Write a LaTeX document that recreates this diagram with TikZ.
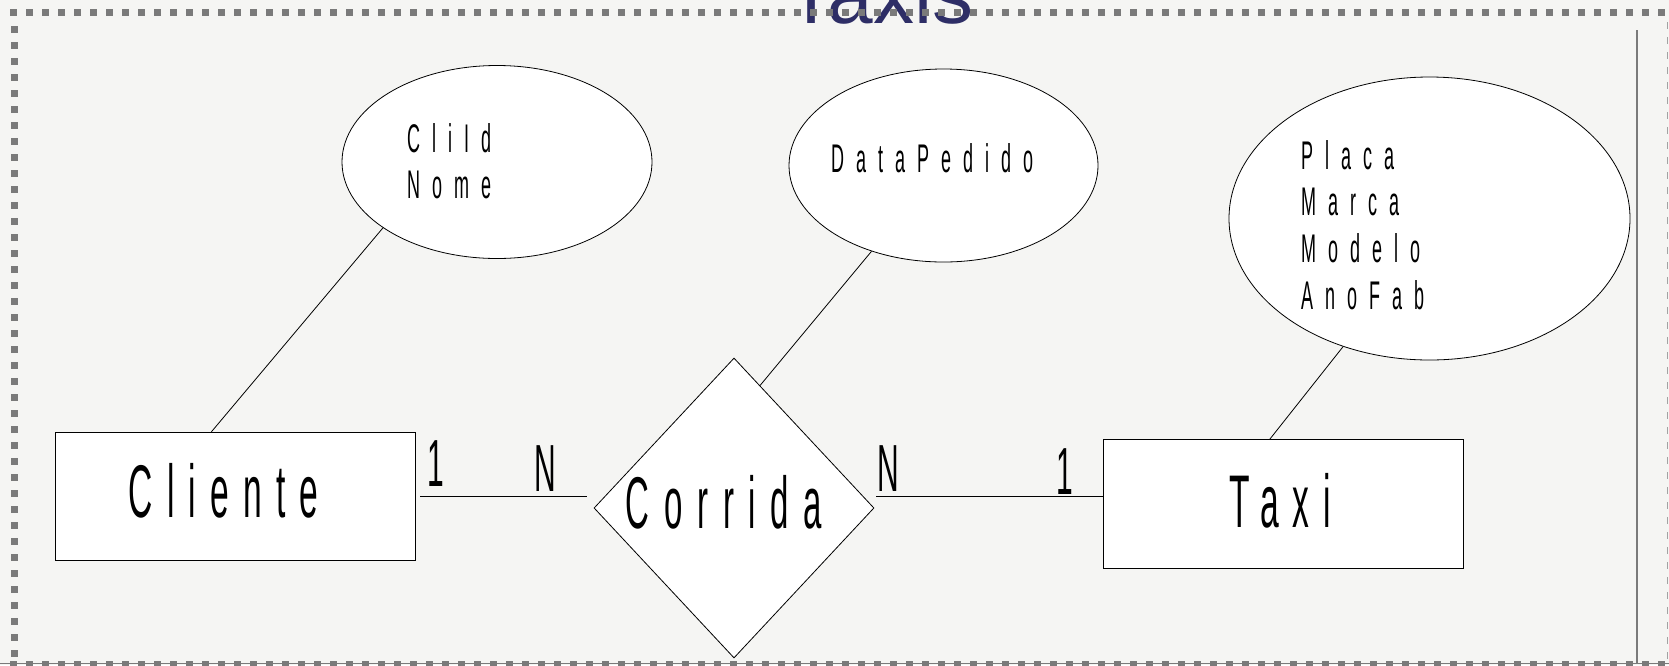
\documentclass[tikz,border=0pt]{standalone}
\usepackage{fontspec}
\setmainfont{Liberation Sans}
\newfontfamily\erfont[FakeStretch=0.45]{Liberation Sans}
\usetikzlibrary{shapes.geometric,calc}

\definecolor{fundo}{RGB}{245,245,243}
\definecolor{moldura}{RGB}{122,122,122}
\definecolor{titulo}{RGB}{46,46,102}

\tikzset{
	entidade/.style = {draw, fill=white, line width=0.6pt, minimum width=270pt, minimum height=96.5pt, inner sep=0pt,
		font=\erfont\fontsize{56}{64}\selectfont\addfontfeatures{LetterSpace=19}},
	relac/.style = {diamond, draw, fill=white, line width=0.6pt, minimum width=210pt, minimum height=225pt, inner sep=0pt,
		font=\erfont\fontsize{55}{64}\selectfont\addfontfeatures{LetterSpace=20}},
	atributo/.style = {ellipse, draw, fill=white, line width=0.6pt, inner sep=0pt},
	atrtexto/.style = {anchor=north west, inner sep=0pt, align=left,
		font=\erfont\fontsize{30}{35}\selectfont\addfontfeatures{LetterSpace=30}},
	card/.style = {anchor=base, inner sep=0pt, font=\erfont\fontsize{50}{55}\selectfont},
	link/.style = {line width=0.6pt},
}

\begin{document}
\begin{tikzpicture}[x = 0.75pt, y = -0.75pt]
	\useasboundingbox (0,0) rectangle (1669,665);
	\fill[fundo] (0,0) rectangle (1669,665);
	\node[anchor=base, inner sep=0pt, text=titulo, font=\fontsize{61.5}{70}\selectfont] (titulo) at (880,23) {Taxis};

	% entidades e relacionamento (texto um pouco acima e a esquerda do centro)
	\node[entidade, text depth=9pt] (cliente) at (235,496.5) {Cliente\hspace*{17pt}};
	\node[relac, text depth=9pt] (corrida) at (734,508) {\makebox[0pt]{Corrida\hspace*{15pt}}};
	\node[entidade, text depth=5.5pt] (taxi) at (1283.5,504) {Taxi\hspace*{5pt}};

	% atributos
	\node[atributo, minimum width=232.5pt, minimum height=144.75pt] (cliattr) at (497,162) {};
	\node[atrtexto] (clitxt) at (407,123) {CliId\\Nome};
	\node[atributo, minimum width=231.75pt, minimum height=144.75pt] (dataattr) at (943.5,165.5) {};
	\node[atrtexto] (datatxt) at (831,143) {DataPedido};
	\node[atributo, minimum width=300.75pt, minimum height=212.25pt] (taxiattr) at (1429.5,218.5) {};
	\node[atrtexto] (taxitxt) at (1301,140) {Placa\\Marca\\Modelo\\AnoFab};

	\draw[link] (cliattr.210) -- (cliente.110);
	\draw[link] (dataattr.230) -- (corrida.78);
	\draw[link] (taxiattr.236) -- (taxi.102);

	% cardinalidades
	\draw[link] ([xshift=3.75pt]cliente.east) -- ([xshift=-5pt]cliente.east -| corrida.west)
		node[card, pos=0.09, yshift=7.5pt]{1}
		node[card, pos=0.75, yshift=3.75pt]{N};
	\draw[link] ([xshift=1.5pt]corrida.east |- cliente.east) -- (taxi.west |- cliente.east)
		node[card, pos=0.053, yshift=3.75pt]{N}
		node[card, pos=0.83, yshift=1.5pt]{1};

	% moldura
	\draw[moldura, line width=0.7pt] (0,663) -- (1669,663);
	\draw[moldura!70, line width=0.75pt, dash pattern=on 5pt off 6.25pt] (1667.5,22) -- (1667.5,665);
	\draw[moldura, line width=1.1pt] (1637,30) -- (1637,663);
	\draw[moldura, line width=5.25pt, dash pattern=on 5.25pt off 6.75pt] (10,12) -- (1669,12);
	\draw[moldura, line width=5.25pt, dash pattern=on 5.25pt off 6.75pt] (14,26) -- (14,665);
	\draw[moldura, line width=5.25pt, dash pattern=on 5.25pt off 6.75pt] (10,664) -- (1669,664);
\end{tikzpicture}
\end{document}
